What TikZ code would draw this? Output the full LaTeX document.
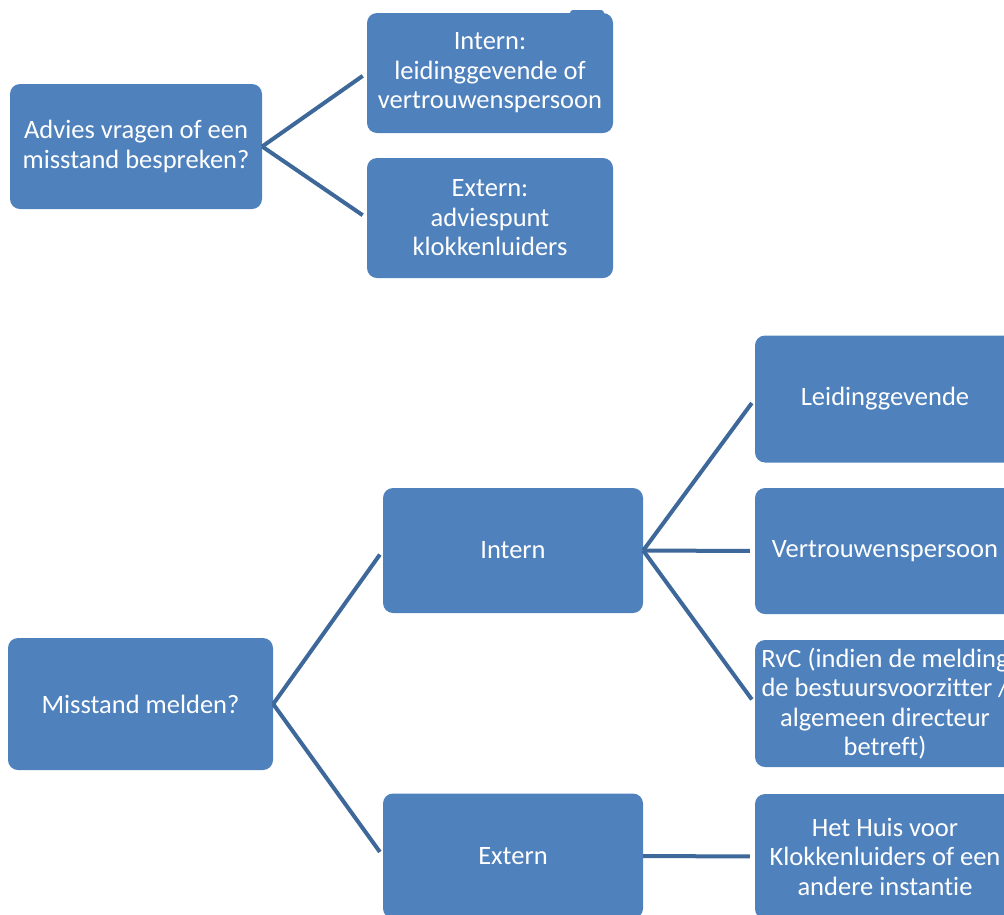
\documentclass[tikz,border=0pt]{standalone}
\usepackage{fontspec}
\setmainfont{Carlito}[Ligatures=NoCommon]
\definecolor{boxblue}{HTML}{4F81BD}
\definecolor{linkblue}{HTML}{3D6899}
\begin{document}
\begin{tikzpicture}[x=1pt, y=-1pt]
    % Define styles
    \tikzset{
        box/.style={
            rectangle,
            rounded corners=10pt,
            fill=boxblue,
            text=white,
            align=center,
            inner sep=0pt,
            font=\fontsize{26.5}{29.5}\selectfont
        },
        link/.style={
            linkblue,
            line width=4pt,
            shorten >=5pt
        }
    }

    \useasboundingbox (0,0) rectangle (1004,914);
    \clip (0,0) rectangle (1004,914);

    % Advice part
    \node[box, minimum width=252pt, minimum height=125pt] (advies) at (136,146.5) {Advies vragen of een\\misstand bespreken?};
    \fill[boxblue, rounded corners=3pt] (570,10) rectangle (604,20);
    \node[box, minimum width=246pt, minimum height=120pt] (adviesIntern) at (490,73) {Intern:\\leidinggevende of\\vertrouwenspersoon};
    \node[box, minimum width=246pt, minimum height=120pt] (adviesExtern) at (490,218) {Extern:\\adviespunt\\klokkenluiders};

    \draw[link] (advies.east) -- (adviesIntern.west);
    \draw[link] (advies.east) -- (adviesExtern.west);

    % Reporting part
    \node[box, minimum width=265pt, minimum height=132pt] (melden) at (140.5,704) {Misstand melden?};
    \node[box, minimum width=260pt, minimum height=125pt] (meldIntern) at (513,550.5) {Intern};
    \node[box, minimum width=260pt, minimum height=125pt] (meldExtern) at (513,856) {Extern};

    \node[box, minimum width=260pt, minimum height=127pt] (leiding) at (885,399) {Leidinggevende};
    \node[box, minimum width=260pt, minimum height=126pt] (vertrouwen) at (885,551) {Vertrouwenspersoon};
    \node[box, minimum width=260pt, minimum height=127pt] (rvc) at (885,703.5) {RvC (indien de melding\\de bestuursvoorzitter /\\algemeen directeur\\betreft)};
    \node[box, minimum width=260pt, minimum height=125pt] (huis) at (885,856.5) {Het Huis voor\\Klokkenluiders of een\\andere instantie};

    \draw[link] (melden.east) -- (meldIntern.west);
    \draw[link] (melden.east) -- (meldExtern.west);
    \draw[link] (meldIntern.east) -- (leiding.west);
    \draw[link] (meldIntern.east) -- (vertrouwen.west);
    \draw[link] (meldIntern.east) -- (rvc.west);
    \draw[link] (meldExtern.east) -- (huis.west);

\end{tikzpicture}
\end{document}
